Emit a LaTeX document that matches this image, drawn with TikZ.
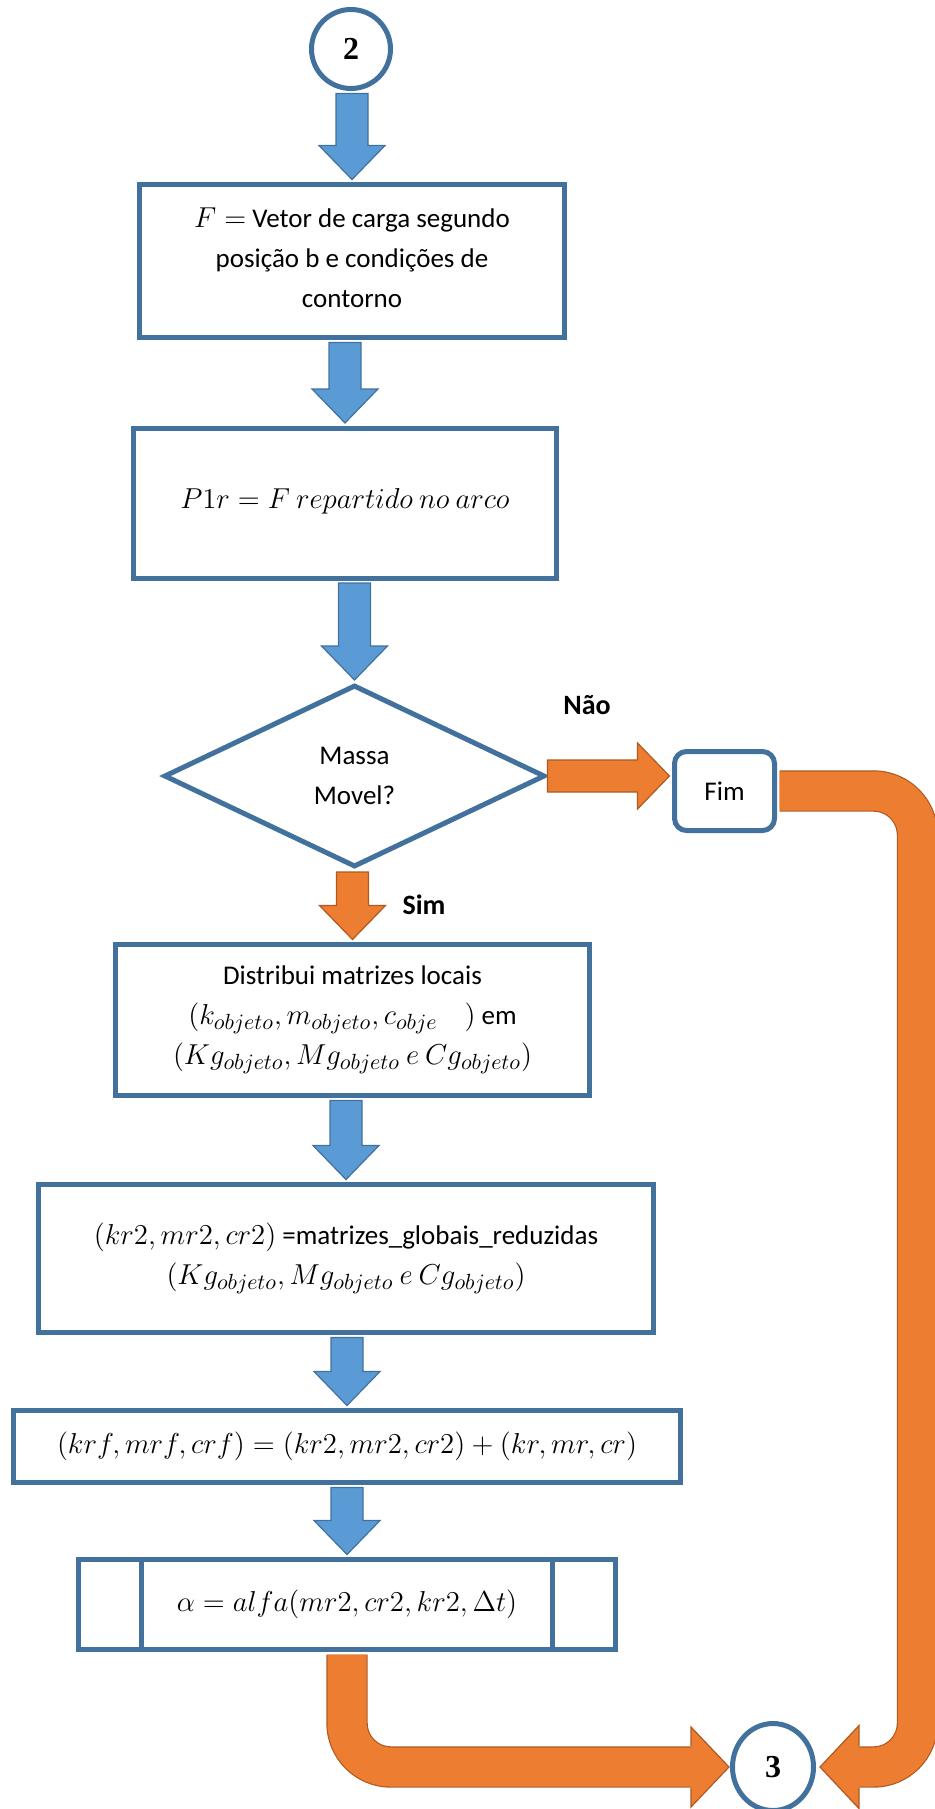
\documentclass[tikz,border=0pt]{standalone}
\usepackage{fontspec}
\setmainfont{Carlito}
\newfontfamily\numfont{Liberation Serif}
\DeclareMathSizes{13.5}{13.5}{11}{9}
\usetikzlibrary{calc,shapes.geometric}
\definecolor{azulborda}{HTML}{41719C}
\definecolor{azulseta}{HTML}{5B9BD5}
\definecolor{laranja}{HTML}{ED7D31}
\definecolor{laranjaborda}{HTML}{AE5A21}
\begin{document}
\begin{tikzpicture}[x=0.5pt,y=-0.5pt]
        %\tikzstyle{block} = [rectangle, draw=azulborda, line width=2pt, text centered]
        \tikzstyle{block} = [rectangle, draw=azulborda, line width=2.5pt, fill=white, text=black, align=center, inner sep=0pt, font=\fontsize{13.5}{20}\selectfont]
        \tikzstyle{conector} = [draw=azulborda, line width=2.5pt, fill=white, inner sep=0pt, font=\numfont\bfseries\fontsize{16}{16}\selectfont]
        \tikzstyle{setaazul} = [fill=azulseta, draw=azulborda, line width=0.6pt]
        \tikzstyle{setalaranja} = [fill=laranja, draw=laranjaborda, line width=0.6pt]
        \tikzstyle{cano} = [draw=laranjaborda, double=laranja, double distance=19.5pt, line width=0.6pt, rounded corners=22pt]
        \tikzstyle{rotulo} = [font=\bfseries\fontsize{14}{16}\selectfont]
        \useasboundingbox (0,0) rectangle (935,1809);
        \node[conector, circle, minimum size=39.5pt] (c2) at (351,49) {2};
        \node[block, minimum width=212.5pt, minimum height=76.5pt] (forca) at (352,261) {\raisebox{3pt}{$F =$ Vetor de carga segundo}\\\raisebox{3pt}{posição b e condições de}\\\raisebox{3pt}{contorno}};
        \node[block, minimum width=211.5pt, minimum height=75pt] (reparte) at (345,503) {\raisebox{4.5pt}{$P1r = F\ repartido\ no\ arco$}};
        \node[block, diamond, minimum width=190.5pt, minimum height=91pt] (massa) at (354.5,776) {Massa\\Movel?};
        \node[block, rounded corners=6pt, minimum width=50pt, minimum height=39.5pt] (fim) at (724.5,791) {Fim};
        \node[block, minimum width=237pt, minimum height=75.5pt] (distribui) at (352.5,1020) {Distribui matrizes locais\\$(k_{objeto}, m_{objeto}, c_{obje}\quad)$ em\\$(Kg_{objeto}, Mg_{objeto}\ e\ Cg_{objeto})$};
        \node[block, minimum width=307.5pt, minimum height=74pt] (reduz) at (346,1258.5) {$(kr2, mr2, cr2)$ =matrizes\_globais\_reduzidas\\$(Kg_{objeto}, Mg_{objeto}\ e\ Cg_{objeto})$};
        \node[block, minimum width=333.5pt, minimum height=36pt] (soma) at (347,1446.5) {$(krf, mrf, crf) = (kr2, mr2, cr2) + (kr, mr, cr)$};
        \node[block, minimum width=268.5pt, minimum height=45pt] (alfa) at (347,1604.5) {\raisebox{2pt}{$\alpha = alfa(mr2, cr2, kr2, \Delta t)$}};
        \draw[azulborda, line width=2.5pt] ([xshift=32.75pt]alfa.north west) -- ([xshift=32.75pt]alfa.south west);
        \draw[azulborda, line width=2.5pt] ([xshift=-32.75pt]alfa.north east) -- ([xshift=-32.75pt]alfa.south east);
        \node[conector, ellipse, minimum width=40.5pt, minimum height=43.5pt] (c3) at (773,1767) {3};
        \node[rotulo] (nao) at (587,705) {Não};
        \node[rotulo] (sim) at (424,905) {Sim};
        \coordinate (desvio) at (917.5,1000);
        \foreach \de/\para/\estilo in {c2/forca/setaazul, forca/reparte/setaazul, reparte/massa/setaazul, massa/distribui/setalaranja, distribui/reduz/setaazul, reduz/soma/setaazul, soma/alfa/setaazul}
            \draw[\estilo] let \p1=(\de.south), \p2=(\para.north) in
                (\x2-8pt,\y1-1.25pt) -- (\x2-8pt,\y2+18.25pt) -- (\x2-16.5pt,\y2+18.25pt) -- (\x2,\y2+1.25pt)
                -- (\x2+16.5pt,\y2+18.25pt) -- (\x2+8pt,\y2+18.25pt) -- (\x2+8pt,\y1-1.25pt) -- cycle;
        \draw[setalaranja] let \p1=(massa.east), \p2=(fim.west) in
            (\x1,\y1+8pt) -- (\x2-17.25pt,\y1+8pt) -- (\x2-17.25pt,\y1+16.5pt) -- (\x2-1.25pt,\y1)
            -- (\x2-17.25pt,\y1-16.5pt) -- (\x2-17.25pt,\y1-8pt) -- (\x1,\y1-8pt) -- cycle;
        \draw[cano] let \p1=(alfa.south), \p2=(c3.west) in (\x1,\y1-1.25pt) -- (\x1,\y2) -- (\x2-19.5pt,\y2);
        \draw[setalaranja] let \p2=(c3.west) in (\x2-19.5pt,\y2+10.4pt) -- (\x2-19.5pt,\y2+20pt) -- (\x2-0.5pt,\y2) -- (\x2-19.5pt,\y2-20pt) -- (\x2-19.5pt,\y2-10.4pt);
        \draw[cano] let \p1=(fim.east), \p2=(c3.east), \p3=(desvio) in (\x1+1.25pt,\y1) -- (\x3,\y1) -- (\x3,\y2) -- (\x2+21.5pt,\y2);
        \draw[setalaranja] let \p2=(c3.east) in (\x2+21.5pt,\y2+10.4pt) -- (\x2+21.5pt,\y2+20.75pt) -- (\x2+2pt,\y2) -- (\x2+21.5pt,\y2-20.75pt) -- (\x2+21.5pt,\y2-10.4pt);
    \end{tikzpicture}
\end{document}
